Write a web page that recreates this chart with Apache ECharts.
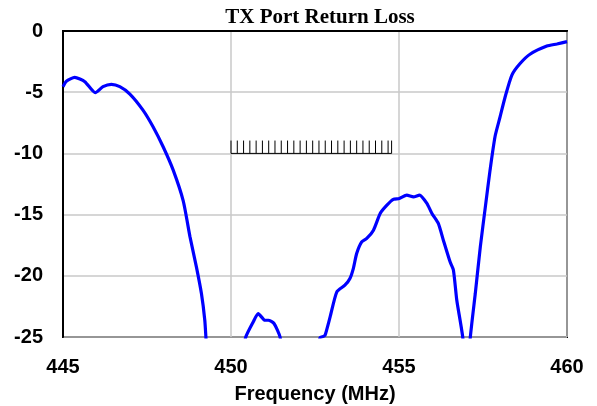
<!DOCTYPE html>
<html>
<head>
    <meta charset="UTF-8">
    <title>TX Port Return Loss</title>
    <script src="https://cdn.jsdelivr.net/npm/echarts@6/dist/echarts.min.js"></script>
    <style>
        body { margin: 0; background: #fff; }
        #root { width: 597px; height: 406px; }
    </style>
</head>
<body>
    <div id="root"></div>
    <script>
        // frequency (MHz) and return loss (dB)
        // (points below -25 dB are clipped by the plot, only used to keep the line continuous)
        var freq = [445.0, 445.1, 445.35, 445.65, 445.96, 446.19, 446.44, 446.69, 446.99, 447.38,
            447.68, 447.98, 448.28, 448.58, 448.78, 448.97, 449.12, 449.22, 449.26,
            449.5, 450.0, 450.3, 450.44, 450.66, 450.81, 451.01, 451.11, 451.28, 451.46,
            451.6, 452.2, 452.55, 452.65, 452.75, 452.8, 452.95, 453.15, 453.39, 453.54,
            453.64, 453.74, 453.89, 454.04, 454.24, 454.44, 454.64, 454.83, 455.01, 455.23,
            455.43, 455.61, 455.83, 455.98, 456.17, 456.32, 456.52, 456.62, 456.72, 456.9,
            457.0, 457.12, 457.27, 457.42, 457.57, 457.71, 457.86, 458.01, 458.16, 458.36,
            458.61, 458.91, 459.4, 459.7, 460.0];
        var returnLoss = [-4.55, -4.1, -3.79, -4.14, -5.04, -4.55, -4.36, -4.55, -5.15, -6.46,
            -7.82, -9.46, -11.37, -13.9, -16.82, -19.27, -21.45, -23.63, -25.3,
            -34, -38, -27, -25.0, -23.77, -23.09, -23.63, -23.63, -23.9, -25.0,
            -28, -35, -27, -25.05, -24.95, -24.86, -23.36, -21.31, -20.77, -20.22,
            -19.41, -18.18, -17.23, -16.95, -16.27, -14.91, -14.23, -13.76, -13.68, -13.41,
            -13.55, -13.41, -14.09, -14.91, -15.72, -17.09, -18.86, -19.54, -22.0, -25.1,
            -30, -25.1, -21.45, -17.64, -14.37, -11.37, -8.6, -7.0, -5.37, -3.6,
            -2.64, -1.88, -1.23, -1.06, -0.87];

        // spec mask: from, to, level (dB), top of hatch (dB)
        var specBand = [450.0, 454.78, -10, -8.95];
        var hatchStep = 0.187; // MHz between hatch strokes

        var xTicks = [445, 450, 455, 460];
        var yTicks = [0, -5, -10, -15, -20, -25];

        var points = freq.map(function (f, i) { return [f, returnLoss[i]]; });

        var chart = echarts.init(document.getElementById('root'));

        chart.setOption({
            animation: false,
            title: {
                text: 'TX Port Return Loss',
                left: 315,
                textAlign: 'center',
                top: 2,
                textStyle: {
                    fontFamily: 'Liberation Serif',
                    fontWeight: 'bold',
                    fontSize: 21,
                    color: '#000'
                }
            },
            grid: {
                left: 63,
                right: 30,
                top: 31,
                bottom: 69,
                outerBoundsMode: 'none',
                show: true,
                borderColor: '#000',
                borderWidth: 2
            },
            xAxis: {
                type: 'value',
                min: xTicks[0],
                max: xTicks[xTicks.length - 1],
                interval: 5,
                name: 'Frequency (MHz)',
                nameLocation: 'middle',
                nameGap: 47,
                nameTextStyle: {
                    fontFamily: 'Liberation Sans',
                    fontWeight: 'bold',
                    fontSize: 20,
                    color: '#000'
                },
                axisLine: { lineStyle: { color: '#000', width: 2 } },
                axisTick: { show: false },
                axisLabel: {
                    margin: 20,
                    fontFamily: 'Liberation Sans',
                    fontWeight: 'bold',
                    fontSize: 20,
                    color: '#000'
                },
                splitLine: { lineStyle: { color: '#c8c8c8', width: 1.5 } }
            },
            yAxis: {
                type: 'value',
                min: yTicks[yTicks.length - 1],
                max: yTicks[0],
                interval: 5,
                axisLine: { show: true, lineStyle: { color: '#000', width: 2 } },
                axisTick: { show: false },
                axisLabel: {
                    margin: 20,
                    fontFamily: 'Liberation Sans',
                    fontWeight: 'bold',
                    fontSize: 20,
                    color: '#000'
                },
                splitLine: { lineStyle: { color: '#c8c8c8', width: 1.5 } }
            },
            series: [
                {
                    type: 'custom',
                    data: [specBand],
                    renderItem: function (params, api) {
                        var from = api.value(0), to = api.value(1);
                        var lvl = api.value(2), top = api.value(3);
                        var a = api.coord([from, lvl]);
                        var b = api.coord([to, lvl]);
                        var children = [{
                            type: 'line',
                            shape: { x1: a[0], y1: a[1], x2: b[0], y2: b[1] },
                            style: { stroke: '#000', lineWidth: 1 }
                        }];
                        // hatch strokes
                        var f = from;
                        while (f <= to + 1e-9) {
                            var p0 = api.coord([f, lvl]);
                            var p1 = api.coord([f, top]);
                            children.push({
                                type: 'line',
                                shape: { x1: p0[0], y1: p0[1], x2: p1[0], y2: p1[1] },
                                style: { stroke: '#000', lineWidth: 1 }
                            });
                            f += hatchStep;
                        }
                        var e1 = api.coord([to, top]);
                        children.push({
                            type: 'line',
                            shape: { x1: b[0], y1: b[1], x2: e1[0], y2: e1[1] },
                            style: { stroke: '#000', lineWidth: 1 }
                        });
                        return { type: 'group', children: children };
                    },
                    z: 3
                },
                {
                    type: 'line',
                    data: points,
                    showSymbol: false,
                    smooth: 0.2,
                    clip: true,
                    lineStyle: { color: '#0000ff', width: 3.2 },
                    z: 4
                }
            ]
        });
    </script>
</body>
</html>
